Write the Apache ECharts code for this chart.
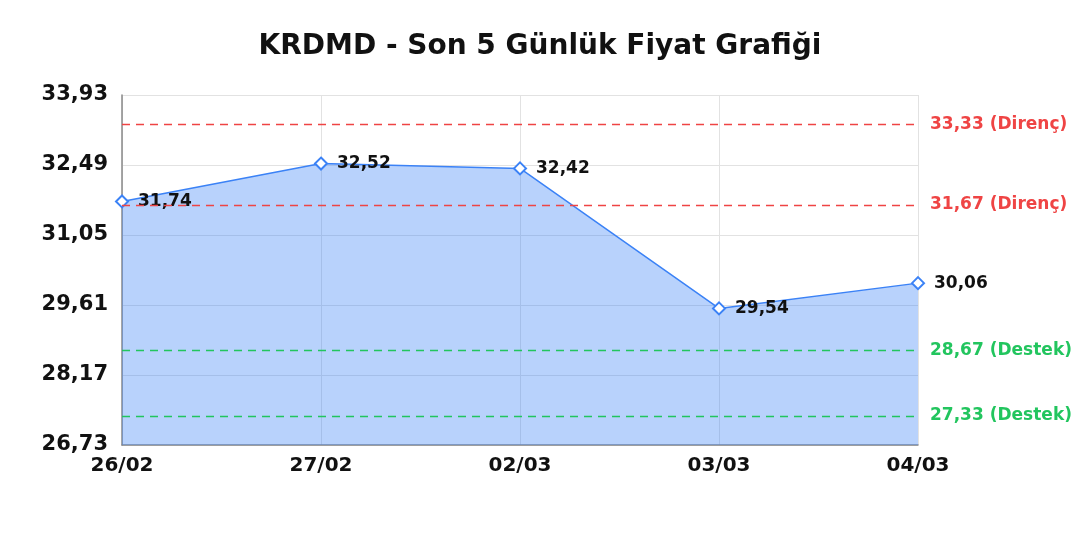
<!DOCTYPE html>
<html><head><meta charset="utf-8">
<script src="https://cdn.jsdelivr.net/npm/echarts@6/dist/echarts.min.js"></script>
<style>html,body{margin:0;padding:0;background:#fff}#c{width:1080px;height:540px}</style>
</head><body><div id="c"></div>
<script>
const categories = ['26/02','27/02','02/03','03/03','04/03'];
const prices = [31.74, 32.52, 32.42, 29.54, 30.06];
const resistance = [33.33, 31.67];
const support = [28.67, 27.33];
const yMin = 26.73, yMax = 33.93, yStep = 1.44;

const fmt = v => v.toFixed(2).replace('.', ',');
const FONT = '"DejaVu Sans", sans-serif';
const RED = '#ef4444', GREEN = '#22c55e';

const markData = [];
resistance.forEach(v => markData.push({yAxis: v,
  lineStyle:{color:RED, type:[8,6], width:1.3},
  label:{color:RED, formatter: fmt(v) + ' (Direnç)'}}));
support.forEach(v => markData.push({yAxis: v,
  lineStyle:{color:GREEN, type:[8,6], width:1.3},
  label:{color:GREEN, formatter: fmt(v) + ' (Destek)'}}));

const chart = echarts.init(document.getElementById('c'), null, {renderer:'canvas'});
chart.setOption({
  animation: false,
  title: {text:'KRDMD - Son 5 Günlük Fiyat Grafiği', left:'center', top:28,
    textStyle:{fontFamily:FONT, fontWeight:'bold', fontSize:28, color:'#111'}},
  grid: {left:122, right:162, top:95, bottom:95},
  xAxis: {type:'category', data:categories, boundaryGap:false,
    axisLine:{lineStyle:{color:'#888', width:1.5}}, axisTick:{show:false},
    splitLine:{show:true, lineStyle:{color:'#e2e2e2'}},
    axisLabel:{fontFamily:FONT, fontWeight:'bold', fontSize:20, color:'#111', margin:11}},
  yAxis: {type:'value', min:yMin, max:yMax, interval:yStep,
    axisLine:{show:true, lineStyle:{color:'#888', width:1.5}}, axisTick:{show:false},
    splitLine:{show:true, lineStyle:{color:'#e2e2e2'}},
    axisLabel:{fontFamily:FONT, fontWeight:'bold', fontSize:21, color:'#111', margin:14, formatter: v => fmt(v)}},
  series: [{
    type:'line', data:prices, symbol:'diamond', symbolSize:12,
    itemStyle:{color:'#fff', borderColor:'#3b82f6', borderWidth:2},
    lineStyle:{color:'#3b82f6', width:1.5},
    areaStyle:{color:'rgba(59,130,246,0.36)', opacity:1},
    label:{show:true, position:'right', distance:9, fontFamily:FONT, fontWeight:'bold', fontSize:17, color:'#111', formatter: p => fmt(p.value)},
    markLine:{symbol:['none','none'], silent:true,
      label:{position:'end', fontFamily:FONT, fontWeight:'bold', fontSize:17, distance:12},
      data: markData}
  }]
});
</script></body></html>
